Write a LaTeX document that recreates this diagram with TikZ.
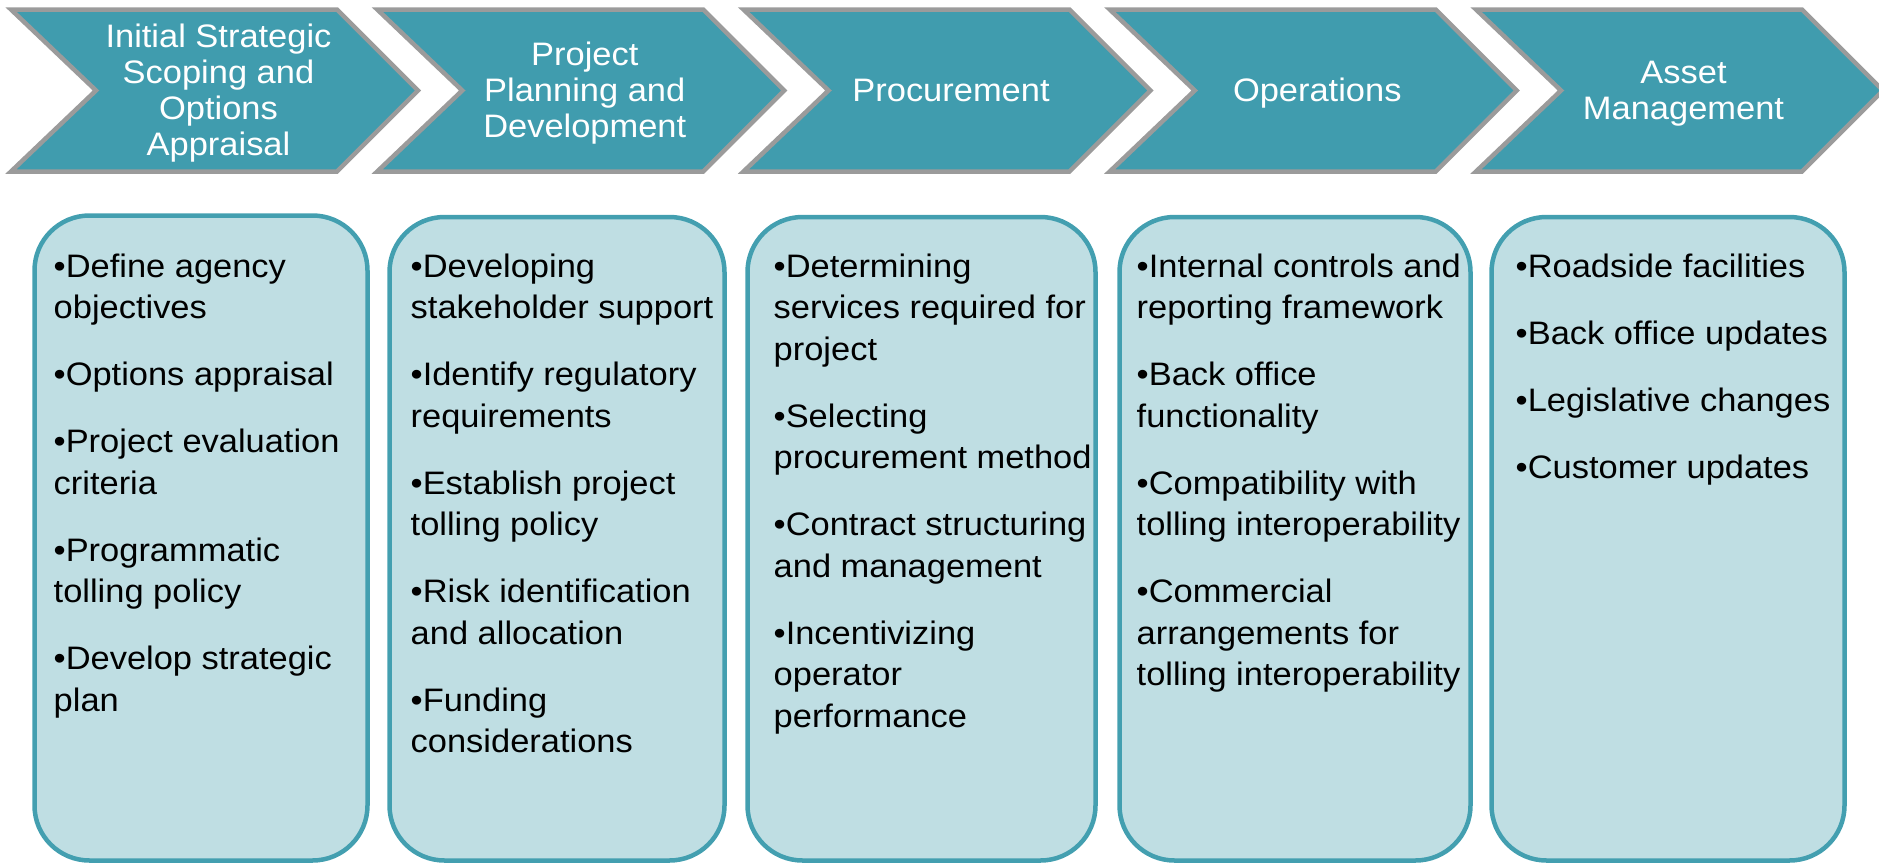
\documentclass[tikz,border=0pt]{standalone}
\usepackage{fontspec}
\setmainfont{Liberation Sans}[FakeStretch=1.06]
\definecolor{chevfill}{HTML}{409CAE}
\definecolor{chevline}{HTML}{9B9B9B}
\definecolor{boxfill}{HTML}{BFDEE3}
\definecolor{boxline}{HTML}{439FB0}

\begin{document}
\begin{tikzpicture}[x=1pt,y=-1pt,
  chevron/.style={fill=chevfill, draw=chevline, line width=4.5pt, line join=miter, miter limit=10},
  % multi-line labels: the base anchor sits on the last line's baseline
  chevlabel/.style={text=white, align=center, inner sep=0pt, anchor=base,
    font=\fontsize{32.5}{36}\selectfont},
  stagebox/.style={rectangle, fill=boxfill, draw=boxline, line width=4.5pt,
    rounded corners=55pt, inner sep=0pt},
  itemlist/.style={align=left, inner sep=0pt, anchor=base west, text=black,
    font=\fontsize{32.5}{41.5}\selectfont}]
\useasboundingbox (0,0) rectangle (1879,865);

% process chevrons along the top
\draw[chevron] (11,9.5) -- (337,9.5) -- (418,90.5) -- (337,171.5) -- (11,171.5) -- (96,90.5) -- cycle;
\draw[chevron] (377.25,9.5) -- (703.25,9.5) -- (784.25,90.5) -- (703.25,171.5) -- (377.25,171.5) -- (462.25,90.5) -- cycle;
\draw[chevron] (743.5,9.5) -- (1069.5,9.5) -- (1150.5,90.5) -- (1069.5,171.5) -- (743.5,171.5) -- (828.5,90.5) -- cycle;
\draw[chevron] (1109.75,9.5) -- (1435.75,9.5) -- (1516.75,90.5) -- (1435.75,171.5) -- (1109.75,171.5) -- (1194.75,90.5) -- cycle;
\draw[chevron] (1476,9.5) -- (1802,9.5) -- (1883,90.5) -- (1802,171.5) -- (1476,171.5) -- (1561,90.5) -- cycle;

\node[chevlabel] (c1) at (218.5,155) {Initial Strategic\\Scoping and\\Options\\Appraisal};
\node[chevlabel] (c2) at (584.75,137) {Project\\Planning and\\Development};
\node[chevlabel] (c3) at (951,101) {Procurement};
\node[chevlabel] (c4) at (1317.25,101) {Operations};
\node[chevlabel] (c5) at (1683.5,119) {Asset\\Management};

% task boxes
\node[stagebox, minimum width=333pt, minimum height=645pt] (b1) at (201,538) {};
\node[stagebox, minimum width=335pt, minimum height=643.5pt] (b2) at (557,538.75) {};
\node[stagebox, minimum width=348pt, minimum height=643.5pt] (b3) at (921.5,538.75) {};
\node[stagebox, minimum width=351pt, minimum height=643.5pt] (b4) at (1295,538.75) {};
\node[stagebox, minimum width=353pt, minimum height=643.5pt] (b5) at (1668,538.75) {};

\node[itemlist] (l1) at (53.5,711) {•Define agency\\objectives\\[25.5pt]•Options appraisal\\[25.5pt]•Project evaluation\\criteria\\[25.5pt]•Programmatic\\tolling policy\\[25.5pt]•Develop strategic\\plan};
\node[itemlist] (l2) at (410.5,752.5) {•Developing\\stakeholder support\\[25.5pt]•Identify regulatory\\requirements\\[25.5pt]•Establish project\\tolling policy\\[25.5pt]•Risk identification\\and allocation\\[25.5pt]•Funding\\considerations};
\node[itemlist] (l3) at (773.5,727) {•Determining\\services required for\\project\\[25.5pt]•Selecting\\procurement method\\[25.5pt]•Contract structuring\\and management\\[25.5pt]•Incentivizing\\operator\\performance};
\node[itemlist] (l4) at (1136.5,685.5) {•Internal controls and\\reporting framework\\[25.5pt]•Back office\\functionality\\[25.5pt]•Compatibility with\\tolling interoperability\\[25.5pt]•Commercial\\arrangements for\\tolling interoperability};
\node[itemlist] (l5) at (1515.5,478) {•Roadside facilities\\[25.5pt]•Back office updates\\[25.5pt]•Legislative changes\\[25.5pt]•Customer updates};
\end{tikzpicture}
\end{document}
